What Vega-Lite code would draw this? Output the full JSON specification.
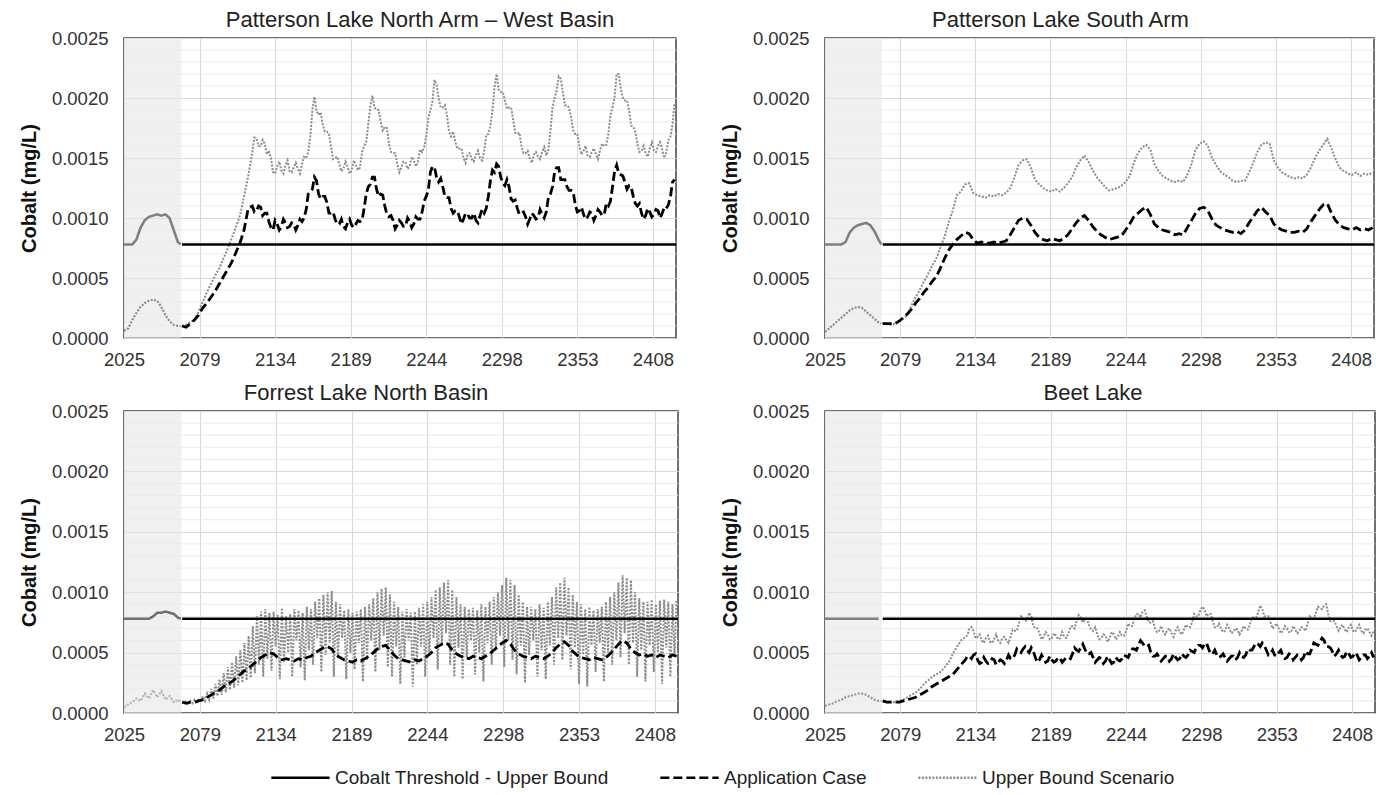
{
"$schema": "https://vega.github.io/schema/vega-lite/v6.json",
"padding": {"left": 18, "top": 8, "right": 0, "bottom": 0},
"datasets": {
"shade": [{"x0": 2025, "x1": 2066.5}],
"thr": [{"t": 2067, "k": 0.00078}, {"t": 2425, "k": 0.00078}],
"minor": [{"y":0.0001},{"y":0.0002},{"y":0.0003},{"y":0.0004},{"y":0.0006},{"y":0.0007},{"y":0.0008},{"y":0.0009},{"y":0.0011},{"y":0.0012},{"y":0.0013},{"y":0.0014},{"y":0.0016},{"y":0.0017},{"y":0.0018},{"y":0.0019},{"y":0.0021},{"y":0.0022},{"y":0.0023},{"y":0.0024}],
"d": [
{"t":2025,"g1":0.00078,"b1":0.00006,"g2":0.00078,"b2":0.00005,"g3":0.00078,"b3":0.00005,"g4":0.00078,"b4":0.00006},
{"t":2028,"g1":0.00078,"b1":0.00008,"g2":0.00078,"b2":0.00008,"g3":0.00078,"b3":0.00007,"g4":0.00078,"b4":0.00007},
{"t":2031,"g1":0.00078,"b1":0.00015,"g2":0.00078,"b2":0.00011,"g3":0.00078,"b3":0.00009,"g4":0.00078,"b4":0.00008},
{"t":2034,"g1":0.00082,"b1":0.00021,"g2":0.00078,"b2":0.00014,"g3":0.00078,"b3":0.00012,"g4":0.00078,"b4":0.00010},
{"t":2037,"g1":0.00092,"b1":0.00026,"g2":0.00078,"b2":0.00017,"g3":0.00078,"b3":0.00010,"g4":0.00078,"b4":0.00011},
{"t":2040,"g1":0.00098,"b1":0.00029,"g2":0.00080,"b2":0.00020,"g3":0.00078,"b3":0.00016,"g4":0.00078,"b4":0.00013},
{"t":2043,"g1":0.00101,"b1":0.00031,"g2":0.00088,"b2":0.00023,"g3":0.00078,"b3":0.00012,"g4":0.00078,"b4":0.00014},
{"t":2046,"g1":0.00102,"b1":0.00032,"g2":0.00092,"b2":0.00025,"g3":0.00080,"b3":0.00019,"g4":0.00078,"b4":0.00015},
{"t":2049,"g1":0.00103,"b1":0.00031,"g2":0.00094,"b2":0.00026,"g3":0.00083,"b3":0.00013,"g4":0.00078,"b4":0.00016},
{"t":2052,"g1":0.00102,"b1":0.00026,"g2":0.00095,"b2":0.00025,"g3":0.00083,"b3":0.00018,"g4":0.00078,"b4":0.00016},
{"t":2055,"g1":0.00103,"b1":0.00019,"g2":0.00096,"b2":0.00022,"g3":0.00084,"b3":0.00011,"g4":0.00078,"b4":0.00015},
{"t":2058,"g1":0.00100,"b1":0.00014,"g2":0.00094,"b2":0.00019,"g3":0.00083,"b3":0.00014,"g4":0.00078,"b4":0.00013},
{"t":2061,"g1":0.00090,"b1":0.00011,"g2":0.00089,"b2":0.00016,"g3":0.00082,"b3":0.00009,"g4":0.00078,"b4":0.00011},
{"t":2064,"g1":0.00080,"b1":0.00010,"g2":0.00082,"b2":0.00013,"g3":0.00079,"b3":0.00011,"g4":0.00078,"b4":0.00010},
{"t":2066,"g1":0.00078,"b1":0.00010,"g2":0.00078,"b2":0.00012,"g3":0.00078,"b3":0.00009,"b4":0.00010},
{"t":2067,"a1":0.00010,"u1":0.00010,"a2":0.00012,"u2":0.00012,"a3":0.00009,"u3":0.00009,"a4":0.00010,"u4":0.00010},
{"t":2070,"a1":0.00009,"u1":0.00011,"a2":0.00012,"u2":0.00012,"a3":0.00008,"u3":0.00010,"a4":0.00009,"u4":0.00009},
{"t":2073,"a1":0.00012,"u1":0.00013,"a2":0.00012,"u2":0.00011,"a3":0.00009,"u3":0.00010,"a4":0.00009,"u4":0.00009},
{"t":2076,"a1":0.00015,"u1":0.00015,"a2":0.00012,"u2":0.00012,"a3":0.00009,"u3":0.00011,"a4":0.00009,"u4":0.00009},
{"t":2079,"a1":0.00019,"u1":0.00022,"a2":0.00014,"u2":0.00014,"a3":0.00010,"u3":0.00012,"a4":0.00009,"u4":0.00010},
{"t":2082,"a1":0.00025,"u1":0.00030,"a2":0.00017,"u2":0.00016,"a3":0.00011,"u3":0.00014,"a4":0.00010,"u4":0.00011},
{"t":2085,"a1":0.00029,"u1":0.00038,"a2":0.00020,"u2":0.00019,"a3":0.00013,"u3":0.00016,"a4":0.00011,"u4":0.00013},
{"t":2088,"a1":0.00034,"u1":0.00045,"a2":0.00024,"u2":0.00027,"a3":0.00015,"u3":0.00020,"a4":0.00012,"u4":0.00015},
{"t":2091,"a1":0.00039,"u1":0.00052,"a2":0.00029,"u2":0.00034,"a3":0.00017,"u3":0.00024,"a4":0.00013,"u4":0.00017},
{"t":2094,"a1":0.00045,"u1":0.00058,"a2":0.00033,"u2":0.00040,"a3":0.00019,"u3":0.00028,"a4":0.00015,"u4":0.00020},
{"t":2097,"a1":0.00051,"u1":0.00066,"a2":0.00038,"u2":0.00047,"a3":0.00022,"u3":0.00033,"a4":0.00017,"u4":0.00024},
{"t":2100,"a1":0.00057,"u1":0.00074,"a2":0.00042,"u2":0.00053,"a3":0.00024,"u3":0.00038,"a4":0.00019,"u4":0.00027},
{"t":2103,"a1":0.00063,"u1":0.00083,"a2":0.00047,"u2":0.00060,"a3":0.00026,"u3":0.00042,"a4":0.00022,"u4":0.00030},
{"t":2106,"a1":0.00071,"u1":0.00092,"a2":0.00051,"u2":0.00066,"a3":0.00029,"u3":0.00047,"a4":0.00024,"u4":0.00032},
{"t":2109,"a1":0.00079,"u1":0.00102,"a2":0.00058,"u2":0.00075,"a3":0.00032,"u3":0.00052,"a4":0.00026,"u4":0.00034},
{"t":2112,"a1":0.00090,"u1":0.00118,"a2":0.00066,"u2":0.00084,"a3":0.00035,"u3":0.00058,"a4":0.00028,"u4":0.00038},
{"t":2115,"a1":0.00108,"u1":0.00135,"a2":0.00073,"u2":0.00096,"a3":0.00037,"u3":0.00064,"a4":0.00030,"u4":0.00042},
{"t":2118,"a1":0.00110,"u1":0.00155,"a2":0.00078,"u2":0.00106,"a3":0.00040,"u3":0.00072,"a4":0.00032,"u4":0.00049},
{"t":2121,"a1":0.00106,"u1":0.00166,"a2":0.00082,"u2":0.00119,"a3":0.00043,"u3":0.00080,"a4":0.00036,"u4":0.00055},
{"t":2124,"a1":0.00109,"u1":0.00160,"a2":0.00085,"u2":0.00122,"a3":0.00046,"u3":0.00084,"a4":0.00040,"u4":0.00060},
{"t":2127,"a1":0.00104,"u1":0.00162,"a2":0.00088,"u2":0.00128,"a3":0.00048,"u3":0.00086,"a4":0.00044,"u4":0.00063},
{"t":2130,"a1":0.00097,"u1":0.00156,"a2":0.00087,"u2":0.00129,"a3":0.00050,"u3":0.00083,"a4":0.00047,"u4":0.00070},
{"t":2133,"a1":0.00090,"u1":0.00138,"a2":0.00082,"u2":0.00121,"a3":0.00049,"u3":0.00084,"a4":0.00048,"u4":0.00068},
{"t":2136,"a1":0.00095,"u1":0.00143,"a2":0.00079,"u2":0.00119,"a3":0.00046,"u3":0.00081,"a4":0.00044,"u4":0.00063},
{"t":2139,"a1":0.00093,"u1":0.00140,"a2":0.00080,"u2":0.00118,"a3":0.00044,"u3":0.00087,"a4":0.00042,"u4":0.00060},
{"t":2142,"a1":0.00096,"u1":0.00144,"a2":0.00079,"u2":0.00117,"a3":0.00045,"u3":0.00080,"a4":0.00043,"u4":0.00062},
{"t":2145,"a1":0.00093,"u1":0.00139,"a2":0.00079,"u2":0.00119,"a3":0.00044,"u3":0.00082,"a4":0.00042,"u4":0.00059},
{"t":2148,"a1":0.00095,"u1":0.00142,"a2":0.00080,"u2":0.00118,"a3":0.00043,"u3":0.00086,"a4":0.00044,"u4":0.00061},
{"t":2151,"a1":0.00094,"u1":0.00141,"a2":0.00079,"u2":0.00120,"a3":0.00045,"u3":0.00085,"a4":0.00042,"u4":0.00060},
{"t":2154,"a1":0.00097,"u1":0.00145,"a2":0.00080,"u2":0.00119,"a3":0.00044,"u3":0.00083,"a4":0.00043,"u4":0.00062},
{"t":2157,"a1":0.00107,"u1":0.00150,"a2":0.00081,"u2":0.00121,"a3":0.00046,"u3":0.00088,"a4":0.00044,"u4":0.00060},
{"t":2160,"a1":0.00122,"u1":0.00168,"a2":0.00086,"u2":0.00125,"a3":0.00047,"u3":0.00086,"a4":0.00045,"u4":0.00063},
{"t":2163,"a1":0.00134,"u1":0.00201,"a2":0.00092,"u2":0.00134,"a3":0.00050,"u3":0.00092,"a4":0.00048,"u4":0.00068},
{"t":2166,"a1":0.00120,"u1":0.00186,"a2":0.00098,"u2":0.00144,"a3":0.00052,"u3":0.00095,"a4":0.00051,"u4":0.00074},
{"t":2169,"a1":0.00118,"u1":0.00178,"a2":0.00100,"u2":0.00148,"a3":0.00054,"u3":0.00098,"a4":0.00053,"u4":0.00079},
{"t":2172,"a1":0.00113,"u1":0.00172,"a2":0.00099,"u2":0.00149,"a3":0.00055,"u3":0.00100,"a4":0.00052,"u4":0.00077},
{"t":2175,"a1":0.00104,"u1":0.00160,"a2":0.00094,"u2":0.00142,"a3":0.00053,"u3":0.00101,"a4":0.00054,"u4":0.00080},
{"t":2178,"a1":0.00099,"u1":0.00150,"a2":0.00088,"u2":0.00132,"a3":0.00048,"u3":0.00092,"a4":0.00046,"u4":0.00070},
{"t":2181,"a1":0.00095,"u1":0.00145,"a2":0.00084,"u2":0.00128,"a3":0.00046,"u3":0.00090,"a4":0.00044,"u4":0.00066},
{"t":2184,"a1":0.00093,"u1":0.00141,"a2":0.00082,"u2":0.00125,"a3":0.00044,"u3":0.00085,"a4":0.00045,"u4":0.00063},
{"t":2187,"a1":0.00096,"u1":0.00143,"a2":0.00081,"u2":0.00123,"a3":0.00043,"u3":0.00086,"a4":0.00043,"u4":0.00065},
{"t":2190,"a1":0.00094,"u1":0.00140,"a2":0.00083,"u2":0.00122,"a3":0.00042,"u3":0.00083,"a4":0.00044,"u4":0.00062},
{"t":2193,"a1":0.00095,"u1":0.00144,"a2":0.00082,"u2":0.00124,"a3":0.00044,"u3":0.00084,"a4":0.00043,"u4":0.00064},
{"t":2196,"a1":0.00097,"u1":0.00142,"a2":0.00081,"u2":0.00122,"a3":0.00043,"u3":0.00086,"a4":0.00045,"u4":0.00062},
{"t":2199,"a1":0.00108,"u1":0.00160,"a2":0.00083,"u2":0.00125,"a3":0.00045,"u3":0.00088,"a4":0.00044,"u4":0.00063},
{"t":2202,"a1":0.00126,"u1":0.00178,"a2":0.00086,"u2":0.00129,"a3":0.00047,"u3":0.00090,"a4":0.00046,"u4":0.00066},
{"t":2205,"a1":0.00134,"u1":0.00202,"a2":0.00091,"u2":0.00134,"a3":0.00050,"u3":0.00095,"a4":0.00049,"u4":0.00072},
{"t":2208,"a1":0.00124,"u1":0.00190,"a2":0.00096,"u2":0.00142,"a3":0.00053,"u3":0.00100,"a4":0.00052,"u4":0.00076},
{"t":2211,"a1":0.00120,"u1":0.00180,"a2":0.00100,"u2":0.00148,"a3":0.00055,"u3":0.00103,"a4":0.00054,"u4":0.00079},
{"t":2214,"a1":0.00110,"u1":0.00176,"a2":0.00102,"u2":0.00152,"a3":0.00056,"u3":0.00104,"a4":0.00053,"u4":0.00077},
{"t":2217,"a1":0.00101,"u1":0.00162,"a2":0.00098,"u2":0.00147,"a3":0.00052,"u3":0.00098,"a4":0.00049,"u4":0.00073},
{"t":2220,"a1":0.00098,"u1":0.00154,"a2":0.00093,"u2":0.00140,"a3":0.00048,"u3":0.00092,"a4":0.00046,"u4":0.00068},
{"t":2223,"a1":0.00094,"u1":0.00145,"a2":0.00089,"u2":0.00134,"a3":0.00045,"u3":0.00088,"a4":0.00044,"u4":0.00065},
{"t":2226,"a1":0.00096,"u1":0.00142,"a2":0.00086,"u2":0.00130,"a3":0.00044,"u3":0.00084,"a4":0.00045,"u4":0.00062},
{"t":2229,"a1":0.00093,"u1":0.00146,"a2":0.00084,"u2":0.00126,"a3":0.00043,"u3":0.00086,"a4":0.00043,"u4":0.00064},
{"t":2232,"a1":0.00097,"u1":0.00143,"a2":0.00082,"u2":0.00123,"a3":0.00042,"u3":0.00083,"a4":0.00044,"u4":0.00062},
{"t":2235,"a1":0.00095,"u1":0.00148,"a2":0.00083,"u2":0.00124,"a3":0.00044,"u3":0.00084,"a4":0.00042,"u4":0.00065},
{"t":2238,"a1":0.00099,"u1":0.00147,"a2":0.00084,"u2":0.00125,"a3":0.00043,"u3":0.00087,"a4":0.00044,"u4":0.00063},
{"t":2241,"a1":0.00105,"u1":0.00155,"a2":0.00085,"u2":0.00127,"a3":0.00045,"u3":0.00090,"a4":0.00045,"u4":0.00064},
{"t":2244,"a1":0.00118,"u1":0.00168,"a2":0.00090,"u2":0.00130,"a3":0.00047,"u3":0.00092,"a4":0.00047,"u4":0.00068},
{"t":2247,"a1":0.00138,"u1":0.00190,"a2":0.00095,"u2":0.00135,"a3":0.00050,"u3":0.00096,"a4":0.00050,"u4":0.00072},
{"t":2250,"a1":0.00142,"u1":0.00215,"a2":0.00101,"u2":0.00146,"a3":0.00054,"u3":0.00102,"a4":0.00053,"u4":0.00078},
{"t":2253,"a1":0.00130,"u1":0.00200,"a2":0.00104,"u2":0.00154,"a3":0.00056,"u3":0.00104,"a4":0.00056,"u4":0.00082},
{"t":2256,"a1":0.00126,"u1":0.00192,"a2":0.00107,"u2":0.00159,"a3":0.00058,"u3":0.00108,"a4":0.00058,"u4":0.00084},
{"t":2259,"a1":0.00117,"u1":0.00186,"a2":0.00109,"u2":0.00161,"a3":0.00057,"u3":0.00110,"a4":0.00055,"u4":0.00080},
{"t":2262,"a1":0.00108,"u1":0.00168,"a2":0.00103,"u2":0.00157,"a3":0.00052,"u3":0.00102,"a4":0.00050,"u4":0.00075},
{"t":2265,"a1":0.00106,"u1":0.00164,"a2":0.00095,"u2":0.00145,"a3":0.00049,"u3":0.00096,"a4":0.00047,"u4":0.00070},
{"t":2268,"a1":0.00101,"u1":0.00158,"a2":0.00092,"u2":0.00139,"a3":0.00047,"u3":0.00090,"a4":0.00046,"u4":0.00068},
{"t":2271,"a1":0.00099,"u1":0.00150,"a2":0.00090,"u2":0.00135,"a3":0.00046,"u3":0.00088,"a4":0.00045,"u4":0.00067},
{"t":2274,"a1":0.00103,"u1":0.00153,"a2":0.00089,"u2":0.00133,"a3":0.00045,"u3":0.00086,"a4":0.00047,"u4":0.00069},
{"t":2277,"a1":0.00100,"u1":0.00149,"a2":0.00088,"u2":0.00131,"a3":0.00047,"u3":0.00087,"a4":0.00045,"u4":0.00066},
{"t":2280,"a1":0.00098,"u1":0.00152,"a2":0.00086,"u2":0.00130,"a3":0.00046,"u3":0.00085,"a4":0.00046,"u4":0.00068},
{"t":2283,"a1":0.00102,"u1":0.00150,"a2":0.00087,"u2":0.00131,"a3":0.00045,"u3":0.00090,"a4":0.00045,"u4":0.00067},
{"t":2286,"a1":0.00104,"u1":0.00156,"a2":0.00086,"u2":0.00130,"a3":0.00047,"u3":0.00088,"a4":0.00047,"u4":0.00069},
{"t":2289,"a1":0.00118,"u1":0.00170,"a2":0.00092,"u2":0.00136,"a3":0.00049,"u3":0.00092,"a4":0.00048,"u4":0.00071},
{"t":2292,"a1":0.00140,"u1":0.00190,"a2":0.00098,"u2":0.00145,"a3":0.00052,"u3":0.00096,"a4":0.00051,"u4":0.00075},
{"t":2295,"a1":0.00145,"u1":0.00220,"a2":0.00104,"u2":0.00157,"a3":0.00055,"u3":0.00100,"a4":0.00054,"u4":0.00080},
{"t":2298,"a1":0.00134,"u1":0.00205,"a2":0.00108,"u2":0.00162,"a3":0.00058,"u3":0.00106,"a4":0.00056,"u4":0.00085},
{"t":2301,"a1":0.00127,"u1":0.00198,"a2":0.00109,"u2":0.00164,"a3":0.00060,"u3":0.00112,"a4":0.00057,"u4":0.00086},
{"t":2304,"a1":0.00126,"u1":0.00192,"a2":0.00106,"u2":0.00160,"a3":0.00057,"u3":0.00110,"a4":0.00053,"u4":0.00082},
{"t":2307,"a1":0.00114,"u1":0.00182,"a2":0.00099,"u2":0.00150,"a3":0.00052,"u3":0.00106,"a4":0.00049,"u4":0.00076},
{"t":2310,"a1":0.00108,"u1":0.00170,"a2":0.00094,"u2":0.00144,"a3":0.00049,"u3":0.00098,"a4":0.00048,"u4":0.00071},
{"t":2313,"a1":0.00104,"u1":0.00160,"a2":0.00092,"u2":0.00139,"a3":0.00047,"u3":0.00092,"a4":0.00047,"u4":0.00070},
{"t":2316,"a1":0.00101,"u1":0.00154,"a2":0.00090,"u2":0.00136,"a3":0.00046,"u3":0.00088,"a4":0.00046,"u4":0.00068},
{"t":2319,"a1":0.00099,"u1":0.00150,"a2":0.00089,"u2":0.00134,"a3":0.00045,"u3":0.00088,"a4":0.00045,"u4":0.00070},
{"t":2322,"a1":0.00102,"u1":0.00153,"a2":0.00088,"u2":0.00131,"a3":0.00047,"u3":0.00086,"a4":0.00047,"u4":0.00067},
{"t":2325,"a1":0.00100,"u1":0.00151,"a2":0.00089,"u2":0.00130,"a3":0.00046,"u3":0.00090,"a4":0.00046,"u4":0.00069},
{"t":2328,"a1":0.00103,"u1":0.00155,"a2":0.00087,"u2":0.00131,"a3":0.00045,"u3":0.00087,"a4":0.00047,"u4":0.00068},
{"t":2331,"a1":0.00105,"u1":0.00152,"a2":0.00090,"u2":0.00131,"a3":0.00047,"u3":0.00092,"a4":0.00048,"u4":0.00070},
{"t":2334,"a1":0.00120,"u1":0.00172,"a2":0.00096,"u2":0.00138,"a3":0.00050,"u3":0.00096,"a4":0.00052,"u4":0.00073},
{"t":2337,"a1":0.00138,"u1":0.00200,"a2":0.00101,"u2":0.00146,"a3":0.00054,"u3":0.00104,"a4":0.00055,"u4":0.00079},
{"t":2340,"a1":0.00142,"u1":0.00218,"a2":0.00106,"u2":0.00155,"a3":0.00057,"u3":0.00108,"a4":0.00057,"u4":0.00083},
{"t":2343,"a1":0.00132,"u1":0.00205,"a2":0.00109,"u2":0.00161,"a3":0.00059,"u3":0.00112,"a4":0.00058,"u4":0.00086},
{"t":2346,"a1":0.00126,"u1":0.00194,"a2":0.00105,"u2":0.00163,"a3":0.00056,"u3":0.00104,"a4":0.00052,"u4":0.00080},
{"t":2349,"a1":0.00123,"u1":0.00184,"a2":0.00102,"u2":0.00162,"a3":0.00051,"u3":0.00098,"a4":0.00049,"u4":0.00075},
{"t":2352,"a1":0.00111,"u1":0.00170,"a2":0.00095,"u2":0.00148,"a3":0.00048,"u3":0.00092,"a4":0.00048,"u4":0.00072},
{"t":2355,"a1":0.00106,"u1":0.00160,"a2":0.00092,"u2":0.00142,"a3":0.00046,"u3":0.00090,"a4":0.00050,"u4":0.00070},
{"t":2358,"a1":0.00103,"u1":0.00156,"a2":0.00090,"u2":0.00138,"a3":0.00045,"u3":0.00086,"a4":0.00047,"u4":0.00068},
{"t":2361,"a1":0.00101,"u1":0.00152,"a2":0.00089,"u2":0.00136,"a3":0.00044,"u3":0.00088,"a4":0.00046,"u4":0.00070},
{"t":2364,"a1":0.00104,"u1":0.00155,"a2":0.00088,"u2":0.00134,"a3":0.00046,"u3":0.00085,"a4":0.00048,"u4":0.00067},
{"t":2367,"a1":0.00102,"u1":0.00153,"a2":0.00088,"u2":0.00133,"a3":0.00045,"u3":0.00086,"a4":0.00046,"u4":0.00069},
{"t":2370,"a1":0.00105,"u1":0.00157,"a2":0.00089,"u2":0.00134,"a3":0.00044,"u3":0.00088,"a4":0.00047,"u4":0.00068},
{"t":2373,"a1":0.00103,"u1":0.00160,"a2":0.00088,"u2":0.00133,"a3":0.00046,"u3":0.00092,"a4":0.00046,"u4":0.00070},
{"t":2376,"a1":0.00110,"u1":0.00170,"a2":0.00091,"u2":0.00136,"a3":0.00049,"u3":0.00096,"a4":0.00049,"u4":0.00074},
{"t":2379,"a1":0.00126,"u1":0.00192,"a2":0.00097,"u2":0.00142,"a3":0.00053,"u3":0.00100,"a4":0.00053,"u4":0.00079},
{"t":2382,"a1":0.00144,"u1":0.00220,"a2":0.00102,"u2":0.00150,"a3":0.00057,"u3":0.00108,"a4":0.00057,"u4":0.00083},
{"t":2385,"a1":0.00136,"u1":0.00208,"a2":0.00107,"u2":0.00156,"a3":0.00060,"u3":0.00114,"a4":0.00059,"u4":0.00087},
{"t":2388,"a1":0.00130,"u1":0.00198,"a2":0.00111,"u2":0.00161,"a3":0.00058,"u3":0.00112,"a4":0.00060,"u4":0.00089},
{"t":2391,"a1":0.00127,"u1":0.00190,"a2":0.00112,"u2":0.00166,"a3":0.00053,"u3":0.00110,"a4":0.00055,"u4":0.00082},
{"t":2394,"a1":0.00118,"u1":0.00176,"a2":0.00104,"u2":0.00158,"a3":0.00050,"u3":0.00100,"a4":0.00051,"u4":0.00076},
{"t":2397,"a1":0.00110,"u1":0.00162,"a2":0.00098,"u2":0.00149,"a3":0.00048,"u3":0.00095,"a4":0.00049,"u4":0.00072},
{"t":2400,"a1":0.00104,"u1":0.00156,"a2":0.00094,"u2":0.00142,"a3":0.00049,"u3":0.00092,"a4":0.00048,"u4":0.00071},
{"t":2403,"a1":0.00102,"u1":0.00154,"a2":0.00092,"u2":0.00139,"a3":0.00047,"u3":0.00092,"a4":0.00047,"u4":0.00069},
{"t":2406,"a1":0.00105,"u1":0.00158,"a2":0.00091,"u2":0.00137,"a3":0.00048,"u3":0.00094,"a4":0.00049,"u4":0.00071},
{"t":2409,"a1":0.00103,"u1":0.00156,"a2":0.00090,"u2":0.00136,"a3":0.00046,"u3":0.00090,"a4":0.00047,"u4":0.00068},
{"t":2412,"a1":0.00106,"u1":0.00160,"a2":0.00092,"u2":0.00138,"a3":0.00048,"u3":0.00093,"a4":0.00048,"u4":0.00070},
{"t":2415,"a1":0.00104,"u1":0.00157,"a2":0.00090,"u2":0.00135,"a3":0.00047,"u3":0.00094,"a4":0.00046,"u4":0.00068},
{"t":2418,"a1":0.00108,"u1":0.00155,"a2":0.00091,"u2":0.00137,"a3":0.00046,"u3":0.00092,"a4":0.00048,"u4":0.00069},
{"t":2421,"a1":0.00118,"u1":0.00168,"a2":0.00090,"u2":0.00136,"a3":0.00048,"u3":0.00090,"a4":0.00047,"u4":0.00067},
{"t":2424,"a1":0.00132,"u1":0.00196,"a2":0.00092,"u2":0.00138,"a3":0.00047,"u3":0.00094,"a4":0.00046,"u4":0.00068},
{"t":2068.5,"u3":0.00008},{"t":2071.5,"u3":0.00008},{"t":2074.5,"u3":0.00008},{"t":2077.5,"u3":0.00009},{"t":2080.5,"u3":0.00009},
{"t":2083.5,"u3":0.00010},{"t":2086.5,"u3":0.00011},{"t":2089.5,"u3":0.00012},{"t":2092.5,"u3":0.00014},{"t":2095.5,"u3":0.00015},
{"t":2098.5,"u3":0.00017},{"t":2101.5,"u3":0.00019},{"t":2104.5,"u3":0.00021},{"t":2107.5,"u3":0.00023},{"t":2110.5,"u3":0.00025},
{"t":2113.5,"u3":0.00027},{"t":2116.5,"u3":0.00029},
{"t":2119.5,"u3":0.00033,"a1":0.00105,"u1":0.00167},
{"t":2122.5,"u3":0.00040,"a1":0.00110,"u1":0.00160},
{"t":2125.5,"u3":0.00030,"a1":0.00102,"u1":0.00165},
{"t":2128.5,"u3":0.00045,"a1":0.00104,"u1":0.00153,"a4":0.00047,"u4":0.00064},
{"t":2131.5,"u3":0.00035,"a1":0.00092,"u1":0.00150,"a4":0.00045,"u4":0.00071},
{"t":2134.5,"u3":0.00055,"a1":0.00098,"u1":0.00137,"a4":0.00049,"u4":0.00062},
{"t":2137.5,"u3":0.00028,"a1":0.00090,"u1":0.00147,"a4":0.00041,"u4":0.00065},
{"t":2140.5,"u3":0.00042,"a1":0.00099,"u1":0.00137,"a4":0.00046,"u4":0.00058},
{"t":2143.5,"u3":0.00050,"a1":0.00092,"u1":0.00148,"a4":0.00041,"u4":0.00064},
{"t":2146.5,"u3":0.00030,"a1":0.00096,"u1":0.00138,"a4":0.00045,"u4":0.00058},
{"t":2149.5,"u3":0.00060,"a1":0.00090,"u1":0.00146,"a4":0.00040,"u4":0.00065},
{"t":2152.5,"u3":0.00038,"a1":0.00099,"u1":0.00137,"a4":0.00044,"u4":0.00058},
{"t":2155.5,"u3":0.00027,"a1":0.00100,"u1":0.00151,"a4":0.00041,"u4":0.00063},
{"t":2158.5,"u3":0.00052,"a1":0.00120,"u1":0.00155,"a4":0.00048,"u4":0.00058},
{"t":2161.5,"u3":0.00040,"a1":0.00124,"u1":0.00190,"a4":0.00045,"u4":0.00069},
{"t":2164.5,"u3":0.00062,"a1":0.00131,"u1":0.00189,"a4":0.00053,"u4":0.00068},
{"t":2167.5,"u3":0.00034,"a1":0.00116,"u1":0.00188,"a4":0.00050,"u4":0.00080},
{"t":2170.5,"u3":0.00048,"a1":0.00118,"u1":0.00172,"a4":0.00055,"u4":0.00076},
{"t":2173.5,"u3":0.00058,"a1":0.00104,"u1":0.00170,"a4":0.00050,"u4":0.00083},
{"t":2176.5,"u3":0.00030,"a1":0.00105,"u1":0.00149,"a4":0.00051,"u4":0.00072},
{"t":2179.5,"u3":0.00045,"a1":0.00095,"u1":0.00151,"a4":0.00042,"u4":0.00070},
{"t":2182.5,"u3":0.00062,"a1":0.00099,"u1":0.00139,"a4":0.00048,"u4":0.00061},
{"t":2185.5,"u3":0.00028,"a1":0.00091,"u1":0.00147,"a4":0.00042,"u4":0.00067},
{"t":2188.5,"u3":0.00050,"a1":0.00099,"u1":0.00137,"a4":0.00047,"u4":0.00061},
{"t":2191.5,"u3":0.00036,"a1":0.00092,"u1":0.00148,"a4":0.00042,"u4":0.00066},
{"t":2194.5,"u3":0.00058,"a1":0.00098,"u1":0.00140,"a4":0.00046,"u4":0.00061},
{"t":2197.5,"u3":0.00026,"a1":0.00098,"u1":0.00155,"a4":0.00042,"u4":0.00067},
{"t":2200.5,"u3":0.00044,"a1":0.00120,"u1":0.00163,"a4":0.00046,"u4":0.00062},
{"t":2203.5,"u3":0.00060,"a1":0.00128,"u1":0.00193,"a4":0.00045,"u4":0.00071},
{"t":2206.5,"u3":0.00034,"a1":0.00134,"u1":0.00192,"a4":0.00054,"u4":0.00070},
{"t":2209.5,"u3":0.00052,"a1":0.00118,"u1":0.00190,"a4":0.00051,"u4":0.00081},
{"t":2212.5,"u3":0.00064,"a1":0.00119,"u1":0.00173,"a4":0.00057,"u4":0.00075},
{"t":2215.5,"u3":0.00038,"a1":0.00103,"u1":0.00175,"a4":0.00049,"u4":0.00078},
{"t":2218.5,"u3":0.00030,"a1":0.00102,"u1":0.00155,"a4":0.00050,"u4":0.00069},
{"t":2221.5,"u3":0.00055,"a1":0.00091,"u1":0.00154,"a4":0.00042,"u4":0.00071},
{"t":2224.5,"u3":0.00024,"a1":0.00098,"u1":0.00138,"a4":0.00046,"u4":0.00061},
{"t":2227.5,"u3":0.00046,"a1":0.00093,"u1":0.00147,"a4":0.00041,"u4":0.00065},
{"t":2230.5,"u3":0.00060,"a1":0.00100,"u1":0.00141,"a4":0.00047,"u4":0.00059},
{"t":2233.5,"u3":0.00022,"a1":0.00092,"u1":0.00151,"a4":0.00041,"u4":0.00067},
{"t":2236.5,"u3":0.00040,"a1":0.00101,"u1":0.00143,"a4":0.00046,"u4":0.00061},
{"t":2239.5,"u3":0.00055,"a1":0.00099,"u1":0.00157,"a4":0.00043,"u4":0.00067},
{"t":2242.5,"u3":0.00030,"a1":0.00114,"u1":0.00159,"a4":0.00048,"u4":0.00064},
{"t":2245.5,"u3":0.00048,"a1":0.00123,"u1":0.00183,"a4":0.00046,"u4":0.00074},
{"t":2248.5,"u3":0.00062,"a1":0.00143,"u1":0.00197,"a4":0.00053,"u4":0.00072},
{"t":2251.5,"u3":0.00036,"a1":0.00134,"u1":0.00211,"a4":0.00052,"u4":0.00082},
{"t":2254.5,"u3":0.00056,"a1":0.00133,"u1":0.00192,"a4":0.00060,"u4":0.00079},
{"t":2257.5,"u3":0.00066,"a1":0.00118,"u1":0.00194,"a4":0.00055,"u4":0.00085},
{"t":2260.5,"u3":0.00040,"a1":0.00117,"u1":0.00172,"a4":0.00056,"u4":0.00075},
{"t":2263.5,"u3":0.00030,"a1":0.00104,"u1":0.00172,"a4":0.00047,"u4":0.00076},
{"t":2266.5,"u3":0.00054,"a1":0.00106,"u1":0.00158,"a4":0.00049,"u4":0.00067},
{"t":2269.5,"u3":0.00028,"a1":0.00095,"u1":0.00158,"a4":0.00043,"u4":0.00072},
{"t":2272.5,"u3":0.00046,"a1":0.00104,"u1":0.00146,"a4":0.00047,"u4":0.00065},
{"t":2275.5,"u3":0.00060,"a1":0.00100,"u1":0.00154,"a4":0.00043,"u4":0.00070},
{"t":2278.5,"u3":0.00032,"a1":0.00104,"u1":0.00147,"a4":0.00049,"u4":0.00063},
{"t":2281.5,"u3":0.00050,"a1":0.00096,"u1":0.00156,"a4":0.00044,"u4":0.00071},
{"t":2284.5,"u3":0.00026,"a1":0.00107,"u1":0.00148,"a4":0.00049,"u4":0.00065},
{"t":2287.5,"u3":0.00058,"a1":0.00108,"u1":0.00169,"a4":0.00046,"u4":0.00073},
{"t":2290.5,"u3":0.00040,"a1":0.00131,"u1":0.00177,"a4":0.00052,"u4":0.00071},
{"t":2293.5,"u3":0.00052,"a1":0.00138,"u1":0.00209,"a4":0.00050,"u4":0.00082},
{"t":2296.5,"u3":0.00064,"a1":0.00143,"u1":0.00207,"a4":0.00056,"u4":0.00080},
{"t":2299.5,"u3":0.00038,"a1":0.00129,"u1":0.00205,"a4":0.00054,"u4":0.00088},
{"t":2302.5,"u3":0.00060,"a1":0.00132,"u1":0.00191,"a4":0.00058,"u4":0.00080},
{"t":2305.5,"u3":0.00044,"a1":0.00116,"u1":0.00192,"a4":0.00049,"u4":0.00082},
{"t":2308.5,"u3":0.00032,"a1":0.00115,"u1":0.00171,"a4":0.00052,"u4":0.00071},
{"t":2311.5,"u3":0.00056,"a1":0.00103,"u1":0.00171,"a4":0.00046,"u4":0.00074},
{"t":2314.5,"u3":0.00025,"a1":0.00105,"u1":0.00154,"a4":0.00049,"u4":0.00067},
{"t":2317.5,"u3":0.00048,"a1":0.00095,"u1":0.00156,"a4":0.00043,"u4":0.00073},
{"t":2320.5,"u3":0.00060,"a1":0.00104,"u1":0.00146,"a4":0.00047,"u4":0.00066},
{"t":2323.5,"u3":0.00030,"a1":0.00099,"u1":0.00155,"a4":0.00044,"u4":0.00070},
{"t":2326.5,"u3":0.00052,"a1":0.00107,"u1":0.00149,"a4":0.00050,"u4":0.00065},
{"t":2329.5,"u3":0.00028,"a1":0.00100,"u1":0.00159,"a4":0.00046,"u4":0.00072},
{"t":2332.5,"u3":0.00056,"a1":0.00117,"u1":0.00157,"a4":0.00053,"u4":0.00069},
{"t":2335.5,"u3":0.00040,"a1":0.00126,"u1":0.00192,"a4":0.00052,"u4":0.00079},
{"t":2338.5,"u3":0.00062,"a1":0.00142,"u1":0.00206,"a4":0.00058,"u4":0.00079},
{"t":2341.5,"u3":0.00044,"a1":0.00132,"u1":0.00216,"a4":0.00055,"u4":0.00089},
{"t":2344.5,"u3":0.00064,"a1":0.00132,"u1":0.00194,"a4":0.00056,"u4":0.00080},
{"t":2347.5,"u3":0.00036,"a1":0.00123,"u1":0.00192,"a4":0.00048,"u4":0.00080},
{"t":2350.5,"u3":0.00054,"a1":0.00122,"u1":0.00173,"a4":0.00052,"u4":0.00070},
{"t":2353.5,"u3":0.00024,"a1":0.00105,"u1":0.00170,"a4":0.00047,"u4":0.00074},
{"t":2356.5,"u3":0.00048,"a1":0.00109,"u1":0.00153,"a4":0.00052,"u4":0.00066},
{"t":2359.5,"u3":0.00022,"a1":0.00099,"u1":0.00160,"a4":0.00045,"u4":0.00072},
{"t":2362.5,"u3":0.00056,"a1":0.00105,"u1":0.00151,"a4":0.00049,"u4":0.00067},
{"t":2365.5,"u3":0.00034,"a1":0.00098,"u1":0.00158,"a4":0.00044,"u4":0.00072},
{"t":2368.5,"u3":0.00058,"a1":0.00107,"u1":0.00149,"a4":0.00048,"u4":0.00066},
{"t":2371.5,"u3":0.00026,"a1":0.00102,"u1":0.00162,"a4":0.00044,"u4":0.00071},
{"t":2374.5,"u3":0.00050,"a1":0.00112,"u1":0.00161,"a4":0.00051,"u4":0.00068},
{"t":2377.5,"u3":0.00040,"a1":0.00114,"u1":0.00186,"a4":0.00049,"u4":0.00080},
{"t":2380.5,"u3":0.00060,"a1":0.00139,"u1":0.00201,"a4":0.00058,"u4":0.00078},
{"t":2383.5,"u3":0.00046,"a1":0.00137,"u1":0.00220,"a4":0.00056,"u4":0.00088},
{"t":2386.5,"u3":0.00066,"a1":0.00135,"u1":0.00200,"a4":0.00062,"u4":0.00086},
{"t":2389.5,"u3":0.00040,"a1":0.00124,"u1":0.00198,"a4":0.00055,"u4":0.00090},
{"t":2392.5,"u3":0.00058,"a1":0.00126,"u1":0.00177,"a4":0.00054,"u4":0.00076},
{"t":2395.5,"u3":0.00030,"a1":0.00112,"u1":0.00172,"a4":0.00047,"u4":0.00076},
{"t":2398.5,"u3":0.00052,"a1":0.00112,"u1":0.00155,"a4":0.00052,"u4":0.00068},
{"t":2401.5,"u3":0.00026,"a1":0.00099,"u1":0.00160,"a4":0.00046,"u4":0.00073},
{"t":2404.5,"u3":0.00056,"a1":0.00108,"u1":0.00151,"a4":0.00051,"u4":0.00067},
{"t":2407.5,"u3":0.00034,"a1":0.00101,"u1":0.00163,"a4":0.00046,"u4":0.00073},
{"t":2410.5,"u3":0.00050,"a1":0.00107,"u1":0.00155,"a4":0.00050,"u4":0.00067},
{"t":2413.5,"u3":0.00024,"a1":0.00100,"u1":0.00163,"a4":0.00044,"u4":0.00073},
{"t":2416.5,"u3":0.00054,"a1":0.00109,"u1":0.00150,"a4":0.00048,"u4":0.00066},
{"t":2419.5,"u3":0.00030,"a1":0.00111,"u1":0.00165,"a4":0.00045,"u4":0.00070},
{"t":2422.5,"u3":0.00048,"a1":0.00130,"u1":0.00178,"a4":0.00050,"u4":0.00064}
]
},
"config": {
"font": "Liberation Sans",
"view": {"stroke": "#404040", "strokeWidth": 1.5},
"mark": {"invalid": "filter"},
"axis": {"ticks": false, "domain": false, "gridColor": "#d9d9d9", "gridWidth": 1, "labelFontSize": 18.5, "labelColor": "#333333", "labelFont": "Liberation Sans"},
"axisY": {"labelPadding": 16, "titleFontSize": 20, "titleFontWeight": "bold", "titleColor": "#111111", "titlePadding": 12},
"axisX": {"labelPadding": 12, "labelFlush": false},
"title": {"fontSize": 22, "fontWeight": "normal", "color": "#222222", "offset": -3, "baseline": "alphabetic", "anchor": "middle", "frame": "group"},
"legend": {"direction": "horizontal", "symbolType": "stroke", "symbolSize": 3400, "symbolStrokeWidth": 2.5, "labelFontSize": 19, "labelColor": "#222222", "columnPadding": 46, "labelOffset": 4, "labelLimit": 400, "padding": 0}
},
"spacing": 11,
"vconcat": [
{"spacing": 37, "hconcat": [
{"width": 552, "height": 300, "title": {"text": "Patterson Lake North Arm – West Basin", "dx": 20}, "data": {"name": "d"},
"layer": [
{"data": {"name": "shade"}, "mark": {"type": "rect", "color": "#e6e6e6", "opacity": 0.6}, "encoding": {"x": {"field": "x0", "type": "quantitative", "scale": {"domain": [2025, 2425], "nice": false, "zero": false}, "title": null}, "x2": {"field": "x1"}, "y": {"datum": 0, "type": "quantitative", "scale": {"domain": [0, 0.0025], "nice": false, "zero": false}, "title": "Cobalt (mg/L)"}, "y2": {"datum": 0.0025}}},
{"data": {"name": "minor"}, "mark": {"type": "rule", "color": "#ebebeb", "strokeWidth": 1}, "encoding": {"y": {"field": "y", "type": "quantitative", "scale": {"domain": [0, 0.0025], "nice": false, "zero": false}, "title": "Cobalt (mg/L)"}}},
{"mark": {"type": "line", "stroke": "#8c8c8c", "strokeWidth": 2.2, "strokeDash": [2, 1.5]}, "encoding": {"x": {"field": "t", "type": "quantitative", "scale": {"domain": [2025, 2425], "nice": false, "zero": false}, "title": null}, "y": {"field": "b1", "type": "quantitative", "scale": {"domain": [0, 0.0025], "nice": false, "zero": false}, "title": "Cobalt (mg/L)"}}},
{"mark": {"type": "line", "strokeWidth": 2}, "encoding": {"x": {"field": "t", "type": "quantitative", "scale": {"domain": [2025, 2425], "nice": false, "zero": false}, "title": null}, "y": {"field": "u1", "type": "quantitative", "scale": {"domain": [0, 0.0025], "nice": false, "zero": false}, "title": "Cobalt (mg/L)"}, "color": {"datum": "Upper Bound Scenario", "type": "nominal", "scale": {"domain": ["Cobalt Threshold - Upper Bound", "Application Case", "Upper Bound Scenario"], "range": ["#000000", "#000000", "#8c8c8c"]}, "legend": {"title": null, "orient": "none", "legendX": 146, "legendY": 709}}, "strokeDash": {"datum": "Upper Bound Scenario", "type": "nominal", "scale": {"domain": ["Cobalt Threshold - Upper Bound", "Application Case", "Upper Bound Scenario"], "range": [[1, 0], [9, 4], [2, 1.5]]}, "legend": {"title": null, "orient": "none", "legendX": 146, "legendY": 709}}}},
{"mark": {"type": "line", "strokeWidth": 2.8}, "encoding": {"x": {"field": "t", "type": "quantitative", "scale": {"domain": [2025, 2425], "nice": false, "zero": false}, "title": null, "axis": {"values": [2025, 2079.757, 2134.514, 2189.271, 2244.027, 2298.784, 2353.541, 2408.298], "labelExpr": "floor(datum.value)", "grid": true}}, "y": {"field": "a1", "type": "quantitative", "scale": {"domain": [0, 0.0025], "nice": false, "zero": false}, "title": "Cobalt (mg/L)", "axis": {"values": [0, 0.0005, 0.001, 0.0015, 0.002, 0.0025], "format": ".4f", "grid": true}}, "color": {"datum": "Application Case", "type": "nominal", "scale": {"domain": ["Cobalt Threshold - Upper Bound", "Application Case", "Upper Bound Scenario"], "range": ["#000000", "#000000", "#8c8c8c"]}, "legend": {"title": null, "orient": "none", "legendX": 146, "legendY": 709}}, "strokeDash": {"datum": "Application Case", "type": "nominal", "scale": {"domain": ["Cobalt Threshold - Upper Bound", "Application Case", "Upper Bound Scenario"], "range": [[1, 0], [9, 4], [2, 1.5]]}, "legend": {"title": null, "orient": "none", "legendX": 146, "legendY": 709}}}},
{"mark": {"type": "line", "stroke": "#7f7f7f", "strokeWidth": 2.5}, "encoding": {"x": {"field": "t", "type": "quantitative", "scale": {"domain": [2025, 2425], "nice": false, "zero": false}, "title": null}, "y": {"field": "g1", "type": "quantitative", "scale": {"domain": [0, 0.0025], "nice": false, "zero": false}, "title": "Cobalt (mg/L)"}}},
{"data": {"name": "thr"}, "mark": {"type": "line", "strokeWidth": 2.5}, "encoding": {"x": {"field": "t", "type": "quantitative", "scale": {"domain": [2025, 2425], "nice": false, "zero": false}, "title": null}, "y": {"field": "k", "type": "quantitative", "scale": {"domain": [0, 0.0025], "nice": false, "zero": false}, "title": "Cobalt (mg/L)"}, "color": {"datum": "Cobalt Threshold - Upper Bound", "type": "nominal", "scale": {"domain": ["Cobalt Threshold - Upper Bound", "Application Case", "Upper Bound Scenario"], "range": ["#000000", "#000000", "#8c8c8c"]}, "legend": {"title": null, "orient": "none", "legendX": 146, "legendY": 709}}, "strokeDash": {"datum": "Cobalt Threshold - Upper Bound", "type": "nominal", "scale": {"domain": ["Cobalt Threshold - Upper Bound", "Application Case", "Upper Bound Scenario"], "range": [[1, 0], [9, 4], [2, 1.5]]}, "legend": {"title": null, "orient": "none", "legendX": 146, "legendY": 709}}}}
]},
{"width": 549, "height": 300, "title": {"text": "Patterson Lake South Arm", "dx": -39}, "data": {"name": "d"},
"layer": [
{"data": {"name": "shade"}, "mark": {"type": "rect", "color": "#e6e6e6", "opacity": 0.6}, "encoding": {"x": {"field": "x0", "type": "quantitative", "scale": {"domain": [2025, 2425], "nice": false, "zero": false}, "title": null}, "x2": {"field": "x1"}, "y": {"datum": 0, "type": "quantitative", "scale": {"domain": [0, 0.0025], "nice": false, "zero": false}, "title": "Cobalt (mg/L)"}, "y2": {"datum": 0.0025}}},
{"data": {"name": "minor"}, "mark": {"type": "rule", "color": "#ebebeb", "strokeWidth": 1}, "encoding": {"y": {"field": "y", "type": "quantitative", "scale": {"domain": [0, 0.0025], "nice": false, "zero": false}, "title": "Cobalt (mg/L)"}}},
{"mark": {"type": "line", "stroke": "#8c8c8c", "strokeWidth": 2.2, "strokeDash": [2, 1.5]}, "encoding": {"x": {"field": "t", "type": "quantitative", "scale": {"domain": [2025, 2425], "nice": false, "zero": false}, "title": null}, "y": {"field": "b2", "type": "quantitative", "scale": {"domain": [0, 0.0025], "nice": false, "zero": false}, "title": "Cobalt (mg/L)"}}},
{"mark": {"type": "line", "strokeWidth": 2}, "encoding": {"x": {"field": "t", "type": "quantitative", "scale": {"domain": [2025, 2425], "nice": false, "zero": false}, "title": null}, "y": {"field": "u2", "type": "quantitative", "scale": {"domain": [0, 0.0025], "nice": false, "zero": false}, "title": "Cobalt (mg/L)"}, "color": {"datum": "Upper Bound Scenario", "type": "nominal", "scale": {"domain": ["Cobalt Threshold - Upper Bound", "Application Case", "Upper Bound Scenario"], "range": ["#000000", "#000000", "#8c8c8c"]}, "legend": {"title": null, "orient": "none", "legendX": 146, "legendY": 709}}, "strokeDash": {"datum": "Upper Bound Scenario", "type": "nominal", "scale": {"domain": ["Cobalt Threshold - Upper Bound", "Application Case", "Upper Bound Scenario"], "range": [[1, 0], [9, 4], [2, 1.5]]}, "legend": {"title": null, "orient": "none", "legendX": 146, "legendY": 709}}}},
{"mark": {"type": "line", "strokeWidth": 2.8}, "encoding": {"x": {"field": "t", "type": "quantitative", "scale": {"domain": [2025, 2425], "nice": false, "zero": false}, "title": null, "axis": {"values": [2025, 2079.757, 2134.514, 2189.271, 2244.027, 2298.784, 2353.541, 2408.298], "labelExpr": "floor(datum.value)", "grid": true}}, "y": {"field": "a2", "type": "quantitative", "scale": {"domain": [0, 0.0025], "nice": false, "zero": false}, "title": "Cobalt (mg/L)", "axis": {"values": [0, 0.0005, 0.001, 0.0015, 0.002, 0.0025], "format": ".4f", "grid": true}}, "color": {"datum": "Application Case", "type": "nominal", "scale": {"domain": ["Cobalt Threshold - Upper Bound", "Application Case", "Upper Bound Scenario"], "range": ["#000000", "#000000", "#8c8c8c"]}, "legend": {"title": null, "orient": "none", "legendX": 146, "legendY": 709}}, "strokeDash": {"datum": "Application Case", "type": "nominal", "scale": {"domain": ["Cobalt Threshold - Upper Bound", "Application Case", "Upper Bound Scenario"], "range": [[1, 0], [9, 4], [2, 1.5]]}, "legend": {"title": null, "orient": "none", "legendX": 146, "legendY": 709}}}},
{"mark": {"type": "line", "stroke": "#7f7f7f", "strokeWidth": 2.5}, "encoding": {"x": {"field": "t", "type": "quantitative", "scale": {"domain": [2025, 2425], "nice": false, "zero": false}, "title": null}, "y": {"field": "g2", "type": "quantitative", "scale": {"domain": [0, 0.0025], "nice": false, "zero": false}, "title": "Cobalt (mg/L)"}}},
{"data": {"name": "thr"}, "mark": {"type": "line", "strokeWidth": 2.5}, "encoding": {"x": {"field": "t", "type": "quantitative", "scale": {"domain": [2025, 2425], "nice": false, "zero": false}, "title": null}, "y": {"field": "k", "type": "quantitative", "scale": {"domain": [0, 0.0025], "nice": false, "zero": false}, "title": "Cobalt (mg/L)"}, "color": {"datum": "Cobalt Threshold - Upper Bound", "type": "nominal", "scale": {"domain": ["Cobalt Threshold - Upper Bound", "Application Case", "Upper Bound Scenario"], "range": ["#000000", "#000000", "#8c8c8c"]}, "legend": {"title": null, "orient": "none", "legendX": 146, "legendY": 709}}, "strokeDash": {"datum": "Cobalt Threshold - Upper Bound", "type": "nominal", "scale": {"domain": ["Cobalt Threshold - Upper Bound", "Application Case", "Upper Bound Scenario"], "range": [[1, 0], [9, 4], [2, 1.5]]}, "legend": {"title": null, "orient": "none", "legendX": 146, "legendY": 709}}}}
]}
]},
{"spacing": 35, "hconcat": [
{"width": 554, "height": 302, "title": {"text": "Forrest Lake North Basin", "dx": -35}, "data": {"name": "d"},
"layer": [
{"data": {"name": "shade"}, "mark": {"type": "rect", "color": "#e6e6e6", "opacity": 0.6}, "encoding": {"x": {"field": "x0", "type": "quantitative", "scale": {"domain": [2025, 2425], "nice": false, "zero": false}, "title": null}, "x2": {"field": "x1"}, "y": {"datum": 0, "type": "quantitative", "scale": {"domain": [0, 0.0025], "nice": false, "zero": false}, "title": "Cobalt (mg/L)"}, "y2": {"datum": 0.0025}}},
{"data": {"name": "minor"}, "mark": {"type": "rule", "color": "#ebebeb", "strokeWidth": 1}, "encoding": {"y": {"field": "y", "type": "quantitative", "scale": {"domain": [0, 0.0025], "nice": false, "zero": false}, "title": "Cobalt (mg/L)"}}},
{"mark": {"type": "line", "stroke": "#b5b5b5", "strokeWidth": 2.2, "strokeDash": [2, 1.5]}, "encoding": {"x": {"field": "t", "type": "quantitative", "scale": {"domain": [2025, 2425], "nice": false, "zero": false}, "title": null}, "y": {"field": "b3", "type": "quantitative", "scale": {"domain": [0, 0.0025], "nice": false, "zero": false}, "title": "Cobalt (mg/L)"}}},
{"mark": {"type": "line", "strokeWidth": 2}, "encoding": {"x": {"field": "t", "type": "quantitative", "scale": {"domain": [2025, 2425], "nice": false, "zero": false}, "title": null}, "y": {"field": "u3", "type": "quantitative", "scale": {"domain": [0, 0.0025], "nice": false, "zero": false}, "title": "Cobalt (mg/L)"}, "color": {"datum": "Upper Bound Scenario", "type": "nominal", "scale": {"domain": ["Cobalt Threshold - Upper Bound", "Application Case", "Upper Bound Scenario"], "range": ["#000000", "#000000", "#8c8c8c"]}, "legend": {"title": null, "orient": "none", "legendX": 146, "legendY": 709}}, "strokeDash": {"datum": "Upper Bound Scenario", "type": "nominal", "scale": {"domain": ["Cobalt Threshold - Upper Bound", "Application Case", "Upper Bound Scenario"], "range": [[1, 0], [9, 4], [2, 1.5]]}, "legend": {"title": null, "orient": "none", "legendX": 146, "legendY": 709}}}},
{"mark": {"type": "line", "strokeWidth": 2.8}, "encoding": {"x": {"field": "t", "type": "quantitative", "scale": {"domain": [2025, 2425], "nice": false, "zero": false}, "title": null, "axis": {"values": [2025, 2079.757, 2134.514, 2189.271, 2244.027, 2298.784, 2353.541, 2408.298], "labelExpr": "floor(datum.value)", "grid": true}}, "y": {"field": "a3", "type": "quantitative", "scale": {"domain": [0, 0.0025], "nice": false, "zero": false}, "title": "Cobalt (mg/L)", "axis": {"values": [0, 0.0005, 0.001, 0.0015, 0.002, 0.0025], "format": ".4f", "grid": true}}, "color": {"datum": "Application Case", "type": "nominal", "scale": {"domain": ["Cobalt Threshold - Upper Bound", "Application Case", "Upper Bound Scenario"], "range": ["#000000", "#000000", "#8c8c8c"]}, "legend": {"title": null, "orient": "none", "legendX": 146, "legendY": 709}}, "strokeDash": {"datum": "Application Case", "type": "nominal", "scale": {"domain": ["Cobalt Threshold - Upper Bound", "Application Case", "Upper Bound Scenario"], "range": [[1, 0], [9, 4], [2, 1.5]]}, "legend": {"title": null, "orient": "none", "legendX": 146, "legendY": 709}}}},
{"mark": {"type": "line", "stroke": "#6f6f6f", "strokeWidth": 2.5}, "encoding": {"x": {"field": "t", "type": "quantitative", "scale": {"domain": [2025, 2425], "nice": false, "zero": false}, "title": null}, "y": {"field": "g3", "type": "quantitative", "scale": {"domain": [0, 0.0025], "nice": false, "zero": false}, "title": "Cobalt (mg/L)"}}},
{"data": {"name": "thr"}, "mark": {"type": "line", "strokeWidth": 2.5}, "encoding": {"x": {"field": "t", "type": "quantitative", "scale": {"domain": [2025, 2425], "nice": false, "zero": false}, "title": null}, "y": {"field": "k", "type": "quantitative", "scale": {"domain": [0, 0.0025], "nice": false, "zero": false}, "title": "Cobalt (mg/L)"}, "color": {"datum": "Cobalt Threshold - Upper Bound", "type": "nominal", "scale": {"domain": ["Cobalt Threshold - Upper Bound", "Application Case", "Upper Bound Scenario"], "range": ["#000000", "#000000", "#8c8c8c"]}, "legend": {"title": null, "orient": "none", "legendX": 146, "legendY": 709}}, "strokeDash": {"datum": "Cobalt Threshold - Upper Bound", "type": "nominal", "scale": {"domain": ["Cobalt Threshold - Upper Bound", "Application Case", "Upper Bound Scenario"], "range": [[1, 0], [9, 4], [2, 1.5]]}, "legend": {"title": null, "orient": "none", "legendX": 146, "legendY": 709}}}}
]},
{"width": 550, "height": 302, "title": {"text": "Beet Lake", "dx": -7}, "data": {"name": "d"},
"layer": [
{"data": {"name": "shade"}, "mark": {"type": "rect", "color": "#e6e6e6", "opacity": 0.6}, "encoding": {"x": {"field": "x0", "type": "quantitative", "scale": {"domain": [2025, 2425], "nice": false, "zero": false}, "title": null}, "x2": {"field": "x1"}, "y": {"datum": 0, "type": "quantitative", "scale": {"domain": [0, 0.0025], "nice": false, "zero": false}, "title": "Cobalt (mg/L)"}, "y2": {"datum": 0.0025}}},
{"data": {"name": "minor"}, "mark": {"type": "rule", "color": "#ebebeb", "strokeWidth": 1}, "encoding": {"y": {"field": "y", "type": "quantitative", "scale": {"domain": [0, 0.0025], "nice": false, "zero": false}, "title": "Cobalt (mg/L)"}}},
{"mark": {"type": "line", "stroke": "#999999", "strokeWidth": 2.2, "strokeDash": [2, 1.5]}, "encoding": {"x": {"field": "t", "type": "quantitative", "scale": {"domain": [2025, 2425], "nice": false, "zero": false}, "title": null}, "y": {"field": "b4", "type": "quantitative", "scale": {"domain": [0, 0.0025], "nice": false, "zero": false}, "title": "Cobalt (mg/L)"}}},
{"mark": {"type": "line", "strokeWidth": 2}, "encoding": {"x": {"field": "t", "type": "quantitative", "scale": {"domain": [2025, 2425], "nice": false, "zero": false}, "title": null}, "y": {"field": "u4", "type": "quantitative", "scale": {"domain": [0, 0.0025], "nice": false, "zero": false}, "title": "Cobalt (mg/L)"}, "color": {"datum": "Upper Bound Scenario", "type": "nominal", "scale": {"domain": ["Cobalt Threshold - Upper Bound", "Application Case", "Upper Bound Scenario"], "range": ["#000000", "#000000", "#8c8c8c"]}, "legend": {"title": null, "orient": "none", "legendX": 146, "legendY": 709}}, "strokeDash": {"datum": "Upper Bound Scenario", "type": "nominal", "scale": {"domain": ["Cobalt Threshold - Upper Bound", "Application Case", "Upper Bound Scenario"], "range": [[1, 0], [9, 4], [2, 1.5]]}, "legend": {"title": null, "orient": "none", "legendX": 146, "legendY": 709}}}},
{"mark": {"type": "line", "strokeWidth": 2.8}, "encoding": {"x": {"field": "t", "type": "quantitative", "scale": {"domain": [2025, 2425], "nice": false, "zero": false}, "title": null, "axis": {"values": [2025, 2079.757, 2134.514, 2189.271, 2244.027, 2298.784, 2353.541, 2408.298], "labelExpr": "floor(datum.value)", "grid": true}}, "y": {"field": "a4", "type": "quantitative", "scale": {"domain": [0, 0.0025], "nice": false, "zero": false}, "title": "Cobalt (mg/L)", "axis": {"values": [0, 0.0005, 0.001, 0.0015, 0.002, 0.0025], "format": ".4f", "grid": true}}, "color": {"datum": "Application Case", "type": "nominal", "scale": {"domain": ["Cobalt Threshold - Upper Bound", "Application Case", "Upper Bound Scenario"], "range": ["#000000", "#000000", "#8c8c8c"]}, "legend": {"title": null, "orient": "none", "legendX": 146, "legendY": 709}}, "strokeDash": {"datum": "Application Case", "type": "nominal", "scale": {"domain": ["Cobalt Threshold - Upper Bound", "Application Case", "Upper Bound Scenario"], "range": [[1, 0], [9, 4], [2, 1.5]]}, "legend": {"title": null, "orient": "none", "legendX": 146, "legendY": 709}}}},
{"mark": {"type": "line", "stroke": "#7f7f7f", "strokeWidth": 2.5}, "encoding": {"x": {"field": "t", "type": "quantitative", "scale": {"domain": [2025, 2425], "nice": false, "zero": false}, "title": null}, "y": {"field": "g4", "type": "quantitative", "scale": {"domain": [0, 0.0025], "nice": false, "zero": false}, "title": "Cobalt (mg/L)"}}},
{"data": {"name": "thr"}, "mark": {"type": "line", "strokeWidth": 2.5}, "encoding": {"x": {"field": "t", "type": "quantitative", "scale": {"domain": [2025, 2425], "nice": false, "zero": false}, "title": null}, "y": {"field": "k", "type": "quantitative", "scale": {"domain": [0, 0.0025], "nice": false, "zero": false}, "title": "Cobalt (mg/L)"}, "color": {"datum": "Cobalt Threshold - Upper Bound", "type": "nominal", "scale": {"domain": ["Cobalt Threshold - Upper Bound", "Application Case", "Upper Bound Scenario"], "range": ["#000000", "#000000", "#8c8c8c"]}, "legend": {"title": null, "orient": "none", "legendX": 146, "legendY": 709}}, "strokeDash": {"datum": "Cobalt Threshold - Upper Bound", "type": "nominal", "scale": {"domain": ["Cobalt Threshold - Upper Bound", "Application Case", "Upper Bound Scenario"], "range": [[1, 0], [9, 4], [2, 1.5]]}, "legend": {"title": null, "orient": "none", "legendX": 146, "legendY": 709}}}}
]}
]}
]
}
